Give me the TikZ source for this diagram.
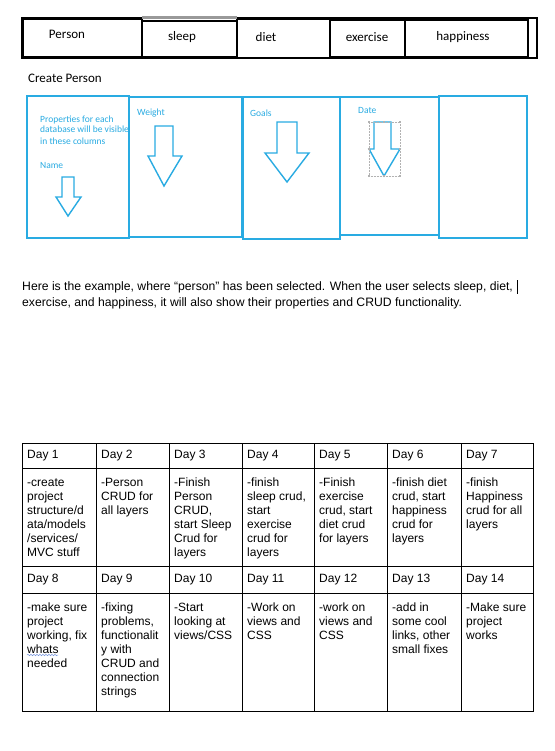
\documentclass[tikz,border=0pt]{standalone}
\usepackage{fontspec}
\setmainfont{Liberation Sans}
\newfontfamily\calfont{Carlito}
\usetikzlibrary{decorations.pathmorphing}
\definecolor{cblue}{RGB}{41,171,226}
\definecolor{spell}{RGB}{120,150,220}
\begin{document}
\begin{tikzpicture}[x=1pt,y=-1pt,
  tabbox/.style={draw=black,line width=1.4pt},
  tablabel/.style={font=\calfont\fontsize{13}{15}\selectfont,inner sep=0pt},
  bluebox/.style={draw=cblue,line width=1.5pt},
  downarrow/.style={draw=cblue,line width=1.4pt,line join=miter},
  bluetext/.style={font=\calfont\fontsize{9.5}{11}\selectfont,text=cblue,inner sep=0pt,anchor=west},
  grid/.style={draw=black,line width=0.8pt},
  dayhead/.style={font=\fontsize{12}{14}\selectfont,inner sep=0pt,anchor=west},
  daybody/.style={font=\fontsize{12}{14}\selectfont,inner sep=0pt,anchor=north west,align=left},
  handle/.style={fill=gray!60,inner sep=0pt,minimum size=2pt}
]
\useasboundingbox (0,0) rectangle (554,751);
\fill[white] (0,0) rectangle (554,751);

% ---- tab bar ----
\draw[tabbox] (22,18) rectangle (537,58);
\fill[gray!80] (142,16.5) rectangle (237,19.5);
\draw[tabbox] (23,19.5) rectangle (142,57);
\draw[tabbox] (142,21) rectangle (237,57);
\draw[tabbox] (237,19.5) rectangle (330,58);
\draw[tabbox] (330,20) rectangle (405,57);
\draw[tabbox] (405,20) rectangle (528,57);
\node[tablabel] (tperson) at (67,34) {Person};
\node[tablabel] (tsleep) at (182,37) {sleep};
\node[tablabel] (tdiet) at (266,37) {diet};
\node[tablabel] (texercise) at (367,37) {exercise};
\node[tablabel] (thappy) at (463,37) {happiness};

\node[font=\calfont\fontsize{13}{15}\selectfont,inner sep=0pt,anchor=west] (create) at (28,78) {Create Person};

% ---- blue columns ----
\node[bluetext] (p1) at (40,120) {Properties for each};
\begin{scope}
  \clip (27,124) rectangle (129,134);
  \node[bluetext] (p2) at (40,129) {database will be visible};
\end{scope}
\node[bluetext] (p3) at (40,141) {in these columns};
\node[bluetext] (pname) at (40,165) {Name};
\node[bluetext] (pweight) at (137,113) {Weight};
\node[bluetext] (pgoals) at (250,113) {Goals};
\node[bluetext] (pdate) at (358,110) {Date};

\draw[bluebox] (27,96) rectangle (129,238);
\draw[bluebox] (129,97) rectangle (242,237);
\draw[bluebox] (243,97) rectangle (340,239);
\draw[bluebox] (340,97) rectangle (439,235);
\draw[bluebox] (439,96) rectangle (527,238);

% arrows
\draw[downarrow] (62,177) -- (74,177) -- (74,197) -- (81,197) -- (68,216) -- (56,197) -- (62,197) -- cycle;
\draw[downarrow] (155,126) -- (173,126) -- (173,156) -- (182,156) -- (164,186) -- (148,156) -- (155,156) -- cycle;
\draw[downarrow] (277,122) -- (297,122) -- (297,153) -- (309,153) -- (287,182) -- (265,153) -- (277,153) -- cycle;
\draw[downarrow] (374,122) -- (391,122) -- (391,149) -- (400,149) -- (384,176) -- (369,149) -- (374,149) -- cycle;
% selection frame
\draw[gray!60,densely dotted,line width=0.5pt] (369,122) rectangle (400,176);
\foreach \hx in {369,384,400} {
  \node[handle] at (\hx,122) {};
  \node[handle] at (\hx,176) {};
}
\node[handle] at (369,149) {};
\node[handle] at (400,149) {};

% ---- paragraph ----
\node[font=\fontsize{12.2}{16}\selectfont,inner sep=0pt,anchor=north west,align=left] (para) at (22,279)
  {\strut Here is the example, where “person” has been selected. When the user selects sleep, diet,\\
   exercise, and happiness, it will also show their properties and CRUD functionality.};
\coordinate (curtop) at (517,280);
\coordinate (curbot) at (517,294);
\draw[black,line width=0.8pt] (curtop) -- (curbot);

% ---- table ----
\draw[grid] (22,443) rectangle (533,711);
\foreach \yy in {468,566,593} \draw[grid] (22,\yy) -- (533,\yy);
\foreach \xx in {96,169,242,314,387,461} \draw[grid] (\xx,443) -- (\xx,711);

\foreach \i/\xx in {1/27,2/101,3/174,4/247,5/319,6/392,7/466} {
  \node[dayhead] (h\i) at (\xx,456) {Day \i};
}
\foreach \i/\xx in {8/27,9/101,10/174,11/247,12/319,13/392,14/466} {
  \node[dayhead] (h\i) at (\xx,580) {Day \i};
}
\node[daybody] (c1) at (27,476) {\strut -create\\project\\structure/d\\ata/models\\/services/\\MVC stuff};
\node[daybody] (c2) at (101,476) {\strut -Person\\CRUD for\\all layers};
\node[daybody] (c3) at (174,476) {\strut -Finish\\Person\\CRUD,\\start Sleep\\Crud for\\layers};
\node[daybody] (c4) at (247,476) {\strut -finish\\sleep crud,\\start\\exercise\\crud for\\layers};
\node[daybody] (c5) at (319,476) {\strut -Finish\\exercise\\crud, start\\diet crud\\for layers};
\node[daybody] (c6) at (392,476) {\strut -finish diet\\crud, start\\happiness\\crud for\\layers};
\node[daybody] (c7) at (466,476) {\strut -finish\\Happiness\\crud for all\\layers};

\node[daybody] (c8) at (27,601) {\strut -make sure\\project\\working, fix\\whats\\needed};
\node[daybody] (c9) at (101,601) {\strut -fixing\\problems,\\functionalit\\y with\\CRUD and\\connection\\strings};
\node[daybody] (c10) at (174,601) {\strut -Start\\looking at\\views/CSS};
\node[daybody] (c11) at (247,601) {\strut -Work on\\views and\\CSS};
\node[daybody] (c12) at (319,601) {\strut -work on\\views and\\CSS};
\node[daybody] (c13) at (392,601) {\strut -add in\\some cool\\links, other\\small fixes};
\node[daybody] (c14) at (466,601) {\strut -Make sure\\project\\works};

\coordinate (wl) at (27,655);
\coordinate (wr) at (58,655);
\draw[spell,line width=0.5pt,decorate,decoration={snake,amplitude=0.7pt,segment length=3pt}] (wl) -- (wr);
\end{tikzpicture}
\end{document}
